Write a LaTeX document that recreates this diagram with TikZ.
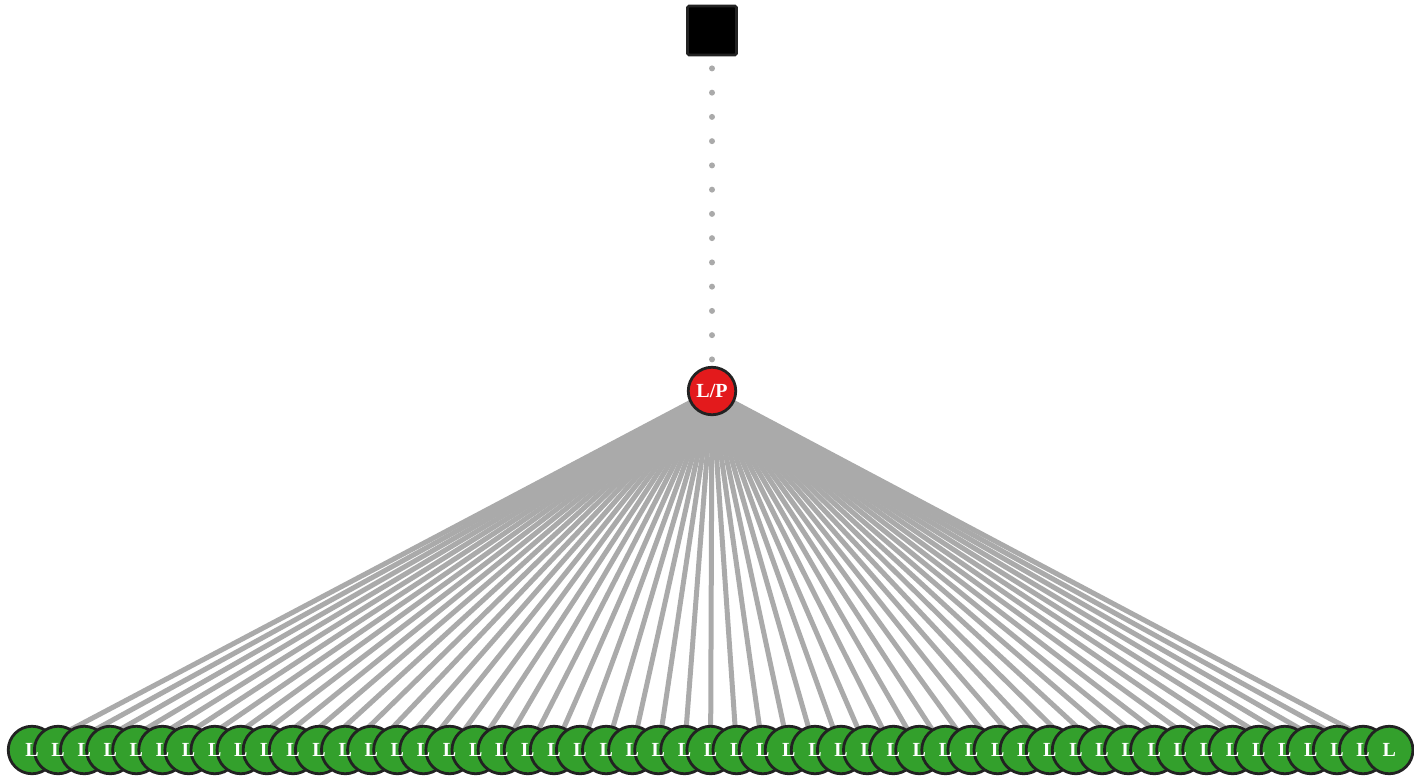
\documentclass[tikz,border=0pt]{standalone}
\usepackage{fontspec}
\setmainfont{Liberation Serif}
\usetikzlibrary{backgrounds}
\definecolor{leafgreen}{RGB}{51,160,44}
\definecolor{lpred}{RGB}{227,26,28}
\definecolor{edgegray}{RGB}{170,170,170}
\definecolor{bordergray}{RGB}{34,34,34}
\tikzset{
  labeltext/.style={text=white,font=\fontsize{20}{20}\selectfont\bfseries,inner sep=0pt},
  leafnode/.style={circle,fill=leafgreen,draw=bordergray,line width=2.8pt,minimum size=47.5pt,inner sep=0pt},
  lpnode/.style={circle,fill=lpred,draw=bordergray,line width=2.8pt,minimum size=47.5pt,inner sep=0pt,labeltext},
  rootnode/.style={rectangle,rounded corners=1.5pt,fill=black,draw=bordergray,line width=2.8pt,minimum size=49pt,inner sep=0pt},
  fanedge/.style={draw=edgegray,line width=5pt},
  dotedge/.style={draw=edgegray,line width=6pt,line cap=round,dash pattern=on 0pt off 24.25pt,dash phase=12.25pt}
}
\begin{document}
\begin{tikzpicture}[x=1pt,y=-1pt]
\useasboundingbox (0,0) rectangle (1414,777);
\node[rootnode] (root) at (712,30.5) {};
\node[lpnode] (lp) at (712,391) {L/P};
\foreach \i in {0,...,52}{
  \node[leafnode] (leaf\i) at ({32+26.1*\i},750) {};
}
\foreach \i in {0,...,52}{
  \node[labeltext] (leaflabel\i) at (leaf\i.center) {L};
}
\begin{scope}[on background layer]
\foreach \i in {0,...,52}{
  \draw[fanedge] (lp.center) -- (leaf\i.center);
}
\end{scope}
\draw[dotedge] (root) -- (lp);
\end{tikzpicture}
\end{document}
